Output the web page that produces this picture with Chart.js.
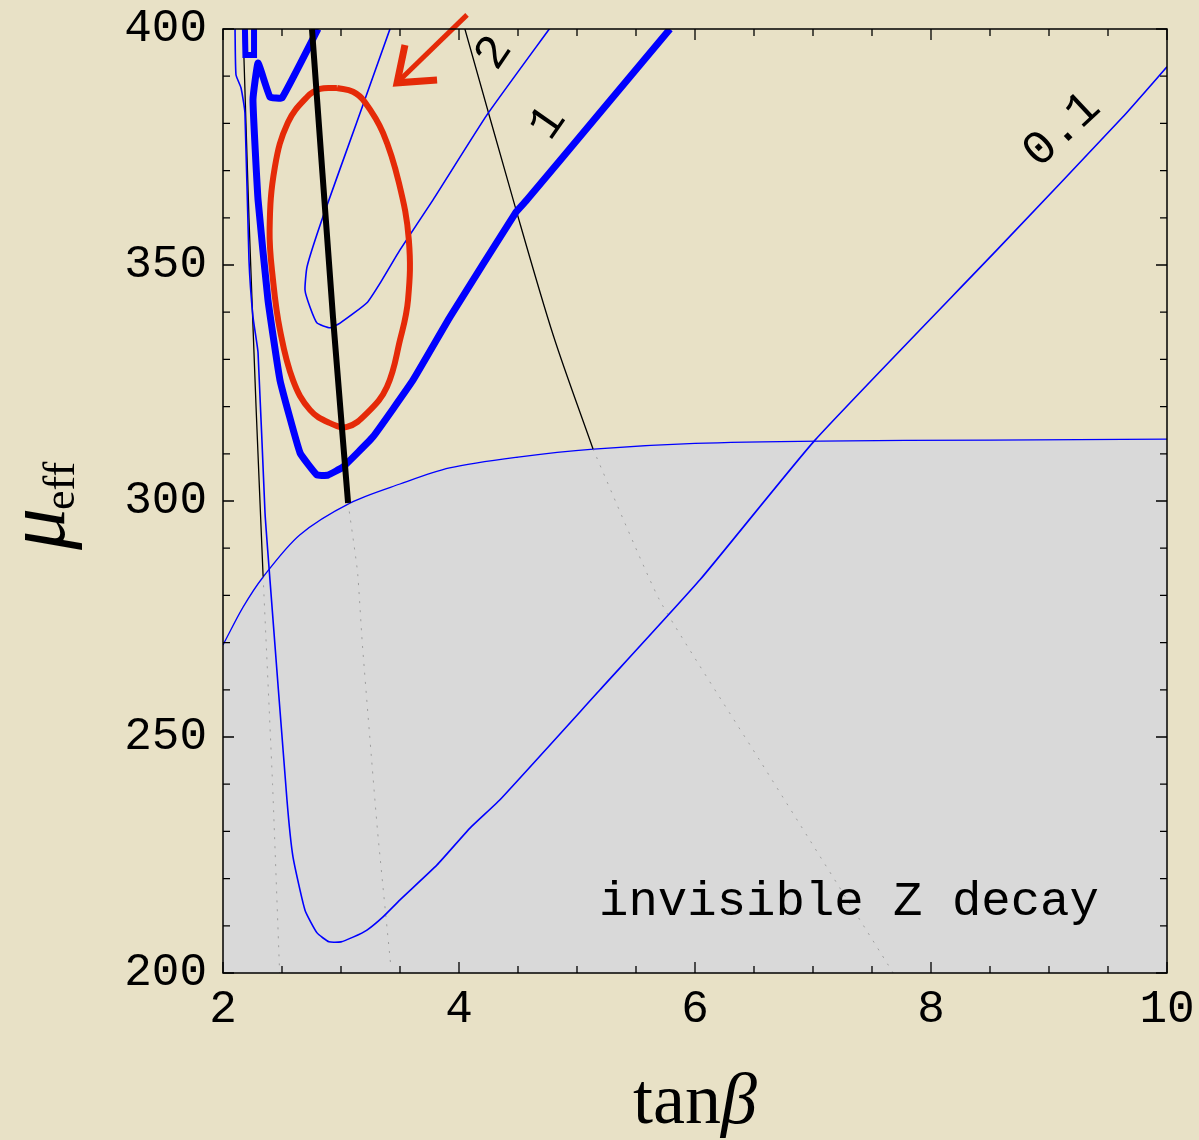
<!DOCTYPE html>
<html>
<head>
<meta charset="utf-8">
<script src="https://cdn.jsdelivr.net/npm/chart.js@4.4.1/dist/chart.umd.min.js"></script>
<style>
  html, body { margin: 0; padding: 0; background: #e8e1c6; }
</style>
</head>
<body>
<canvas id="chart" width="1199" height="1140"></canvas>
<script>
// tick labels
const xLabels = [2, 4, 6, 8, 10];
const yLabels = [200, 250, 300, 350, 400];

// edge of the invisible Z decay region (shaded below it)
const zDecayEdge = [[2.0, 269.5], [2.17, 277.5], [2.34, 283.9], [2.65, 292.8], [3.08, 299.6], [3.5, 303.6],
  [3.92, 307.0], [4.5, 309.3], [5.14, 311.0], [6.0, 312.2], [7.06, 312.7], [8.5, 312.9], [10.0, 313.1]];

// black contours
const thinBlackLeft = [[2.17, 400], [2.22, 360], [2.28, 320], [2.34, 284]];
const thinBlackLeftHidden = [[2.34, 284], [2.42, 240], [2.48, 200]];
const thickBlack = [[2.754, 400], [2.932, 339], [3.06, 299.6]];
const thickBlackHidden = [[3.06, 299.6], [3.14, 285], [3.18, 270], [3.26, 245], [3.31, 230], [3.42, 202]];
const blackTwo = [[4.05, 400], [4.48, 362], [4.8, 335], [5.136, 311]];
const blackTwoHidden = [[5.136, 311], [5.7, 279], [6.55, 245], [7.68, 200]];

// blue contours
const blueOne = [[2.805, 400], [2.5, 385.4], [2.398, 385.6], [2.297, 392.8], [2.254, 385], [2.297, 363.8],
  [2.381, 342.6], [2.483, 325.6], [2.653, 310.2], [2.797, 305.5], [2.89, 305.5], [3.017, 307.2],
  [3.271, 313.6], [3.61, 325.6], [3.924, 339], [4.483, 361.2], [4.576, 363.8], [5.178, 381.8],
  [5.788, 400]];
const blueOneCap = [[2.186, 400], [2.19, 394.5], [2.263, 394.5], [2.263, 400]];
const blueTwo = [[3.415, 400], [3.13, 380], [2.847, 360.2], [2.712, 349.6], [2.695, 344.7], [2.737, 341.1],
  [2.797, 337.7], [2.907, 336.7], [2.992, 337.7], [3.22, 342], [3.347, 346.8], [3.5, 353.2],
  [3.78, 363.8], [4.237, 381.8], [4.771, 400.2]];
const blueTenth = [[2.102, 400], [2.11, 390.3], [2.153, 387.5], [2.186, 382.2], [2.22, 351.1], [2.254, 339],
  [2.297, 331.4], [2.356, 297.5], [2.398, 283.3], [2.542, 236.7], [2.593, 224.6], [2.695, 213.3],
  [2.797, 208.5], [2.898, 206.6], [3.0, 206.6], [3.102, 207.6], [3.22, 209.1], [3.356, 211.9],
  [3.5, 215.5], [3.814, 222.9], [4.093, 230.7], [4.347, 236.7], [5.195, 260], [6.042, 283.3],
  [7.017, 312.9], [8.559, 353.2], [9.627, 381.4], [10.0, 392]];

// hand drawn red ring and arrow
const redRing = [[2.966, 387.5], [3.102, 386.7], [3.2, 384.6], [3.356, 378.0], [3.49, 367.5], [3.575, 355.3],
  [3.568, 342.6], [3.5, 334.1], [3.39, 324.2], [3.22, 318.6], [3.051, 315.7], [2.907, 316.5],
  [2.737, 319.3], [2.593, 325.6], [2.483, 336.2], [2.424, 346.8], [2.395, 357.5], [2.44, 370.8],
  [2.55, 380.2], [2.712, 385.6], [2.822, 387.3], [2.966, 387.5]];
const redArrowShaft = [[4.068, 403], [3.475, 388.6]];
const redArrowHead = [[3.542, 396.6], [3.475, 388.6], [3.814, 389.2]];

// contour labels
const contourLabels = ['2', '1', '0.1'];

function line(points, color, width, order, extra) {
  return Object.assign({
    data: points.map(p => ({ x: p[0], y: p[1] })),
    borderColor: color,
    borderWidth: width,
    showLine: true,
    pointRadius: 0,
    pointHoverRadius: 0,
    fill: false,
    tension: 0.15,
    order: order
  }, extra || {});
}

const hiddenStyle = { borderDash: [2, 7] };

const decor = {
  id: 'decor',
  beforeDraw(chart) {
    const ctx = chart.ctx;
    ctx.save();
    ctx.fillStyle = '#e8e1c6';
    ctx.fillRect(0, 0, chart.width, chart.height);
    ctx.restore();
  },
  afterDatasetsDraw(chart) {
    const { ctx, chartArea: a, scales: { x, y } } = chart;
    ctx.save();
    // frame
    ctx.strokeStyle = '#000';
    ctx.lineWidth = 1.5;
    ctx.strokeRect(a.left, a.top, a.right - a.left, a.bottom - a.top);
    // inward ticks on all four sides
    ctx.lineWidth = 1.3;
    ctx.beginPath();
    x.ticks.forEach(t => {
      const px = x.getPixelForValue(t.value);
      const len = t.label !== '' ? 11 : 7;
      ctx.moveTo(px, a.bottom); ctx.lineTo(px, a.bottom - len);
      ctx.moveTo(px, a.top); ctx.lineTo(px, a.top + len);
    });
    y.ticks.forEach(t => {
      const py = y.getPixelForValue(t.value);
      const len = t.label !== '' ? 11 : 7;
      ctx.moveTo(a.left, py); ctx.lineTo(a.left + len, py);
      ctx.moveTo(a.right, py); ctx.lineTo(a.right - len, py);
    });
    ctx.stroke();

    // rotated contour labels
    ctx.fillStyle = '#000';
    ctx.font = '48px "Liberation Mono", monospace';
    ctx.textAlign = 'center';
    ctx.textBaseline = 'middle';
    const spots = [[4.297, 394.9, -56], [4.754, 380.1, -55], [9.11, 378.6, -43]];
    contourLabels.forEach((txt, i) => {
      const s = spots[i];
      ctx.save();
      ctx.translate(x.getPixelForValue(s[0]), y.getPixelForValue(s[1]));
      ctx.rotate(s[2] * Math.PI / 180);
      ctx.fillText(txt, 0, 0);
      ctx.restore();
    });

    // region label
    ctx.font = '49px "Liberation Mono", monospace';
    ctx.textBaseline = 'alphabetic';
    ctx.fillText('invisible Z decay', x.getPixelForValue(7.305), y.getPixelForValue(212.3));
    ctx.restore();
  },
  afterDraw(chart) {
    const ctx = chart.ctx;
    ctx.save();
    ctx.fillStyle = '#000';
    ctx.textBaseline = 'alphabetic';
    // x title: tan + italic beta
    ctx.font = '72px "Liberation Serif", serif';
    const wTan = ctx.measureText('tan').width;
    ctx.font = 'italic 72px "Liberation Serif", serif';
    const wBeta = ctx.measureText('β').width;
    const sx = 695 - (wTan + wBeta) / 2;
    ctx.font = '72px "Liberation Serif", serif';
    ctx.textAlign = 'left';
    ctx.fillText('tan', sx, 1123);
    ctx.font = 'italic 72px "Liberation Serif", serif';
    ctx.fillText('β', sx + wTan, 1123);

    // y title: italic mu with subscript eff
    ctx.font = 'italic 84px "Liberation Serif", serif';
    const wMu = ctx.measureText('μ').width;
    ctx.font = '44px "Liberation Serif", serif';
    const wEff = ctx.measureText('eff').width;
    ctx.translate(64, 505 + (wMu + wEff) / 2);
    ctx.rotate(-Math.PI / 2);
    ctx.font = 'italic 84px "Liberation Serif", serif';
    ctx.fillText('μ', 0, 0);
    ctx.font = '44px "Liberation Serif", serif';
    ctx.fillText('eff', wMu - 2, 10);
    ctx.restore();
  }
};

const tickFont = { family: '"Liberation Mono", monospace', size: 46 };

new Chart(document.getElementById('chart'), {
  type: 'scatter',
  data: {
    datasets: [
      line(zDecayEdge, '#0000ff', 1.3, 10, { fill: 'start', backgroundColor: '#d9d9d9', tension: 0.3 }),
      line(thinBlackLeftHidden, 'rgba(110,110,110,0.55)', 1, 9, hiddenStyle),
      line(thickBlackHidden, 'rgba(110,110,110,0.55)', 1, 9, hiddenStyle),
      line(blackTwoHidden, 'rgba(110,110,110,0.55)', 1, 9, hiddenStyle),
      line(thinBlackLeft, '#000', 1.3, 6),
      line(blackTwo, '#000', 1.3, 6, { tension: 0.3 }),
      line(blueTenth, '#0000ff', 1.6, 5),
      line(blueTwo, '#0000ff', 1.6, 5),
      line(redRing, '#e52a08', 6, 4, { tension: 0.4 }),
      line(blueOne, '#0000ff', 7, 3, { tension: 0.1, borderJoinStyle: 'round' }),
      line(blueOneCap, '#0000ff', 6, 3, { tension: 0 }),
      line(thickBlack, '#000', 6, 2),
      line(redArrowShaft, '#e52a08', 5, 1, { clip: false, tension: 0 }),
      line(redArrowHead, '#e52a08', 7, 1, { clip: false, tension: 0, borderJoinStyle: 'miter' })
    ]
  },
  options: {
    responsive: false,
    animation: false,
    events: [],
    layout: { padding: { top: 29, right: 32, left: 0, bottom: 0 } },
    plugins: { legend: { display: false }, tooltip: { enabled: false } },
    scales: {
      x: {
        type: 'linear', min: 2, max: 10,
        grid: { display: false, drawTicks: false },
        border: { display: false },
        afterFit: s => { s.height = 167; s.paddingLeft = 0; s.paddingRight = 0; },
        ticks: {
          stepSize: 0.5, autoSkip: false, maxRotation: 0, padding: 9,
          color: '#000', font: tickFont,
          callback: v => xLabels.includes(v) ? String(v) : ''
        }
      },
      y: {
        type: 'linear', min: 200, max: 400,
        grid: { display: false, drawTicks: false },
        border: { display: false },
        afterFit: s => { s.width = 223; s.paddingTop = 0; s.paddingBottom = 0; },
        ticks: {
          stepSize: 10, autoSkip: false, padding: 16,
          color: '#000', font: tickFont,
          callback: v => yLabels.includes(v) ? String(v) : ''
        }
      }
    }
  },
  plugins: [decor]
});
</script>
</body>
</html>
